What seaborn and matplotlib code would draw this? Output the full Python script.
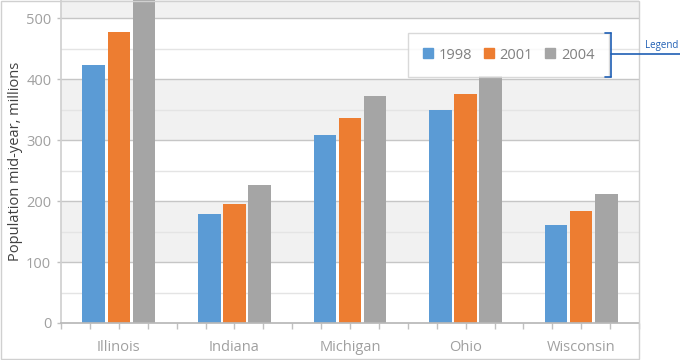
import numpy as np
import pandas as pd
import matplotlib
matplotlib.use("Agg")
import matplotlib.pyplot as plt
import seaborn as sns
from matplotlib.lines import Line2D
from matplotlib.patches import Rectangle
from matplotlib.ticker import MultipleLocator

states = ["Illinois", "Indiana", "Michigan", "Ohio", "Wisconsin"]
years = ["1998", "2001", "2004"]
pop_1998 = [424, 179, 309, 349, 160]
pop_2001 = [477, 196, 336, 375, 183]
pop_2004 = [540, 227, 373, 406, 212]
colors = ["#5b9bd5", "#ed7d31", "#a5a5a5"]

df = pd.DataFrame({
    "state": states * 3,
    "year": [y for y in years for _ in states],
    "value": pop_1998 + pop_2001 + pop_2004,
})

sns.set_theme(style="white")
plt.rcParams["font.family"] = ["Open Sans", "DejaVu Sans"]

fig = plt.figure(figsize=(6.8, 3.6), dpi=100)
ax = fig.add_axes([61 / 680, 37 / 360, 578 / 680, 323 / 360])

# alternating bands and grid
for lo in (100, 300, 500):
    ax.axhspan(lo, lo + 100, color="#f1f1f1", zorder=0, lw=0)
for v in range(50, 551, 100):
    ax.axhline(v, color="#e4e4e4", lw=1, zorder=0.5)
for v in range(100, 501, 100):
    ax.axhline(v, color="#c6c6c6", lw=1, zorder=0.6)

sns.barplot(data=df, x="state", y="value", hue="year", palette=colors,
            width=0.65, gap=0.1, saturation=1, linewidth=0, ax=ax,
            zorder=2, legend=False)

ax.set_xlim(-0.5, 4.5)
ax.set_ylim(0, 530)
ax.set_yticks(range(0, 501, 100))
ax.xaxis.set_minor_locator(MultipleLocator(0.25))
ax.set_xlabel("")
ax.set_ylabel("Population mid-year, millions", fontsize=10.5, color="#404040", labelpad=2)
ax.tick_params(axis="y", labelsize=10.5, labelcolor="#a0a0a0", color="#c0c0c0",
               length=3, width=1, left=True, pad=4)
ax.tick_params(axis="x", which="both", labelsize=10.5, labelcolor="#a0a0a0",
               color="#c0c0c0", bottom=True, width=1, pad=8)
ax.tick_params(axis="x", which="major", length=4)
ax.tick_params(axis="x", which="minor", length=4)

for side in ("top", "right"):
    ax.spines[side].set_visible(False)
ax.spines["left"].set_color("#d0d0d0")
ax.spines["bottom"].set_color("#b8b8b8")

handles = [Line2D([], [], marker="s", linestyle="", markersize=7.5,
                  markerfacecolor=c, markeredgecolor=c) for c in colors]
leg = ax.legend(handles, years, ncol=3, loc="upper right",
                bbox_to_anchor=(609 / 680, 1 - 33 / 360),
                bbox_transform=fig.transFigure, frameon=True, fontsize=10.5,
                handlelength=0.7, handletextpad=0.4, columnspacing=0.8,
                borderpad=1.0, borderaxespad=0, fancybox=False,
                labelcolor="#808080")
leg.get_frame().set_edgecolor("#d0d0d0")
leg.get_frame().set_linewidth(1)

# chart border
fig.add_artist(Rectangle((0.5 / 680, 1.5 / 360), 638.5 / 680, 358 / 360,
                         transform=fig.transFigure, fill=False,
                         ec="#d0d0d0", lw=1))

# legend annotation bracket
blue = "#1f5fb4"
def px(x, y):
    return x / 680, 1 - y / 360
for xs, ys in [((605, 611), (33, 33)), ((611, 611), (33, 77)),
               ((605, 611), (77, 77)), ((611, 680), (54, 54))]:
    (x0, y0), (x1, y1) = px(xs[0], ys[0]), px(xs[1], ys[1])
    fig.add_artist(Line2D([x0, x1], [y0, y1], color=blue, lw=1.2,
                          transform=fig.transFigure))
fig.text(*px(678, 51), "Legend", color=blue, fontsize=7, ha="right", va="bottom")

fig.savefig("out.png", dpi=100)
